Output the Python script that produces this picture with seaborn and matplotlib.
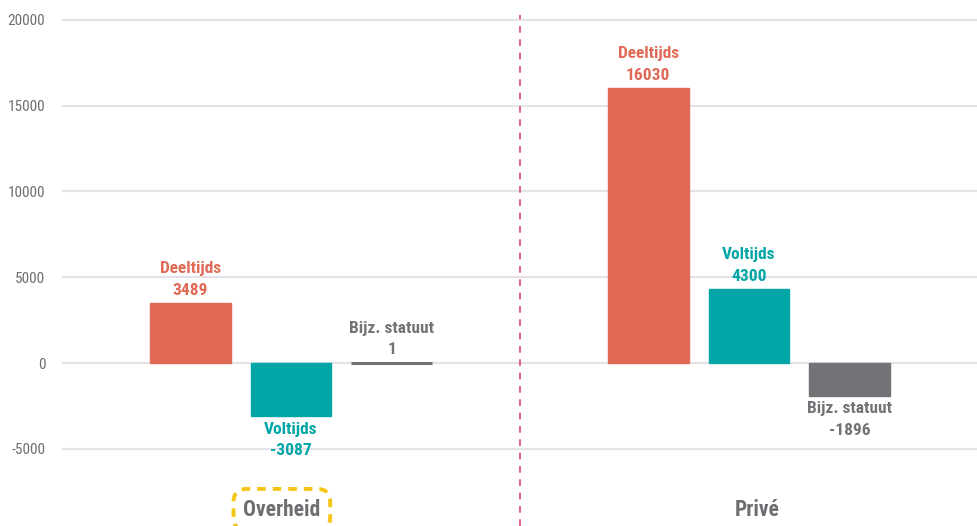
import matplotlib
matplotlib.use("Agg")
import matplotlib.pyplot as plt
import seaborn as sns
import pandas as pd
from matplotlib import font_manager as fm

sectors = ["Overheid", "Privé"]
statuses = ["Deeltijds", "Voltijds", "Bijz. statuut"]
overheid_values = [3489, -3087, 1]
prive_values = [16030, 4300, -1896]
yticks = [-5000, 0, 5000, 10000, 15000, 20000]
colors = ["#E06A55", "#00A6A6", "#717376"]

rows = []
for sec, vals in zip(sectors, [overheid_values, prive_values]):
    for st, v in zip(statuses, vals):
        rows.append({"sector": sec, "status": st, "value": v})
df = pd.DataFrame(rows)

sns.set_theme(style="white")
names = {f.name for f in fm.fontManager.ttflist}
narrow = [n for n in ["Liberation Sans Narrow", "Roboto Condensed", "Open Sans Condensed"] if n in names]
fam_list = narrow + ["Roboto", "DejaVu Sans"]
plt.rcParams["font.family"] = fam_list
tick_fs = 11
lab_fs = 12.5
cat_fs = 15.5

fig = plt.figure(figsize=(9.78, 5.26), dpi=100)
ax = fig.add_axes([62 / 978, 1 - 475 / 526, 916 / 978, 460 / 526])

sns.barplot(data=df, x="sector", y="value", hue="status", order=sectors,
            hue_order=statuses, palette=colors, width=0.66, gap=0.2,
            legend=False, ax=ax, errorbar=None, saturation=1)

ax.set_xlim(-0.5, 1.5)
ax.set_ylim(-6530, 20290)
ax.set_yticks(yticks)
ax.set_yticklabels([str(t) for t in yticks], color="#6D6E71", fontsize=tick_fs)
ax.yaxis.grid(True, color="#E2E2E8", linewidth=1.5)
ax.set_axisbelow(True)
ax.tick_params(axis="y", length=0, pad=12)
ax.tick_params(axis="x", length=0, pad=17)
for s in ax.spines.values():
    s.set_visible(False)
ax.set_xlabel("")
ax.set_ylabel("")
ax.set_xticks([-0.02, 1.018])
ax.set_xticklabels(sectors, color="#6D6E71", fontsize=cat_fs, fontweight="bold")
lab = ax.get_xticklabels()[0]
lab.set_bbox(dict(boxstyle="round,pad=0.45,rounding_size=0.6", fc="none",
                  ec="#F5C518", lw=2.8, ls=(0, (2.2, 1.8))))

for container, st, col in zip(ax.containers, statuses, colors):
    for bar, v in zip(container, df[df.status == st]["value"]):
        bar.set_edgecolor(col)
        bar.set_linewidth(1)
        x = bar.get_x() + bar.get_width() / 2
        if abs(v) < 50:
            bar.set_linewidth(2.2)
        if v >= 0:
            ax.annotate(f"{st}\n{v}", (x, v), xytext=(0, 4), textcoords="offset points",
                        ha="center", va="bottom", color=col, fontsize=lab_fs,
                        fontweight="bold", linespacing=1.55)
        else:
            ax.annotate(f"{st}\n{v}", (x, v), xytext=(0, -4), textcoords="offset points",
                        ha="center", va="top", color=col, fontsize=lab_fs,
                        fontweight="bold", linespacing=1.55)

ax.axvline(0.5, ymin=-0.111, ymax=1.0, color="#E0437F", lw=1.2,
           ls=(0, (4, 4)), clip_on=False)

fig.savefig("out.png", dpi=100)
